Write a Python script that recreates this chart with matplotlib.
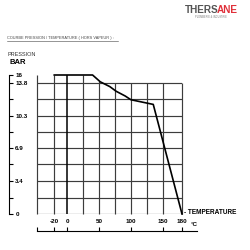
import numpy as np
import matplotlib
matplotlib.use("Agg")
import matplotlib.pyplot as plt

# Courbe pression / temperature
temperature = [-20, 40, 52, 67, 77, 91, 100, 135, 180]
pression = [16, 16, 14.1, 13.4, 12.9, 12.4, 12.0, 11.5, 0]

y_ticks = [0, 3.4, 6.9, 10.3, 13.8, 16]
y_minor = [1.7, 5.2, 8.6, 12.1]
x_ticks = [-20, 0, 50, 100, 150, 180]
x_grid = [-20, 0, 25, 50, 75, 100, 125, 150]
x_min, x_max = -47, 180

# y axis is squeezed above 13.8 (16 sits just over the top line)
y_pos = [0, 1, 2, 3, 4, 4.24]


def fwd(v):
    return np.interp(v, y_ticks, y_pos)


def inv(v):
    return np.interp(v, y_pos, y_ticks)


plt.rcParams['font.family'] = ['Liberation Sans', 'DejaVu Sans']

W = 250.0
fig = plt.figure(figsize=(2.5, 2.5), dpi=100)

# main grid area
ax = fig.add_axes([37 / W, 36 / W, 145 / W, 139 / W])
ax.set_yscale('function', functions=(fwd, inv))
ax.set_xlim(x_min, x_max)
ax.set_ylim(0, 16)
for s in ax.spines.values():
    s.set_visible(False)
ax.set_xticks([])
ax.set_yticks([])

grid_col = '#3c3c3c'
rows = sorted(y_ticks[:-1] + y_minor)
ax.hlines(rows, x_min, x_max, color=grid_col, lw=0.85)
# vertical lines run up to the curve when it is above 13.8
for xv in [x_min] + x_grid + [x_max]:
    top = max(13.8, float(np.interp(xv, temperature, pression)))
    ax.vlines(xv, 0, top, color=grid_col if xv != 0 else 'black',
              lw=0.85 if xv != 0 else 1.1, clip_on=False)

ax.plot(temperature, pression, color='black', lw=1.2, clip_on=False)

# left pressure axis (ticks and labels on the right of the line)
ax_y = fig.add_axes([9 / W, 36 / W, 0.0001, 139 / W])
ax_y.set_yscale('function', functions=(fwd, inv))
ax_y.set_ylim(0, 16)
for k in ['left', 'top', 'bottom']:
    ax_y.spines[k].set_visible(False)
ax_y.spines['right'].set_linewidth(0.8)
ax_y.yaxis.tick_right()
ax_y.set_xticks([])
ax_y.set_yticks(y_ticks)
ax_y.set_yticklabels(['0', '3.4', '6.9', '10.3', '13.8', '16'])
ax_y.set_yticks(y_minor, minor=True)
ax_y.yaxis.set_minor_formatter(plt.NullFormatter())
ax_y.tick_params(axis='y', which='both', direction='out', length=3,
                 width=0.8, labelsize=4.5, pad=1.5)
for lab in ax_y.get_yticklabels():
    lab.set_fontweight('bold')

# bottom temperature axis (ticks and labels above the line)
ax_x = fig.add_axes([37 / W, 19 / W, 160 / W, 0.0001])
ax_x.set_xlim(x_min, x_min + 160 * (x_max - x_min) / 145.0)
for k in ['left', 'right', 'bottom']:
    ax_x.spines[k].set_visible(False)
ax_x.spines['top'].set_linewidth(0.8)
ax_x.xaxis.tick_top()
ax_x.set_yticks([])
ax_x.set_xticks([x_min] + x_ticks)
ax_x.set_xticklabels([''] + [str(t) for t in x_ticks])
ax_x.tick_params(axis='x', direction='out', length=3, width=0.8,
                 labelsize=4.5, pad=2)
for lab in ax_x.get_xticklabels():
    lab.set_fontweight('bold')

fig.text(191 / W, 1 - 224 / W, '°C', fontsize=4.5, fontweight='bold',
         va='center', ha='left')
fig.text(184 / W, 1 - 213 / W, '- TEMPERATURE', fontsize=4.7, fontweight='bold',
         va='center', ha='left')
fig.text(9 / W, 1 - 62 / W, 'BAR', fontsize=5.5, fontweight='bold',
         va='center', ha='left')
fig.text(8 / W, 1 - 54 / W, 'PRESSION', fontsize=4, color='#333333',
         va='center', ha='left')
fig.text(7 / W, 1 - 38 / W, 'COURBE PRESSION / TEMPERATURE ( HORS VAPEUR ) :',
         fontsize=2.8, color='#444444', va='center', ha='left')
fig.add_artist(plt.Line2D([7 / W, 118 / W], [1 - 40.5 / W, 1 - 40.5 / W],
                          color='#444444', lw=0.4))

# logo
fig.text(185 / W, 1 - 10 / W, 'THERS', fontsize=7.2, fontweight='bold',
         color='#555555', va='center', ha='left')
fig.text(238 / W, 1 - 10 / W, 'ANE', fontsize=7.2, fontweight='bold',
         color='#e0303a', va='center', ha='right')
fig.text(211 / W, 1 - 17 / W, 'PLOMBERIE & INDUSTRIE', fontsize=1.8,
         color='#777777', va='center', ha='center')

fig.savefig('out.png', dpi=100)
